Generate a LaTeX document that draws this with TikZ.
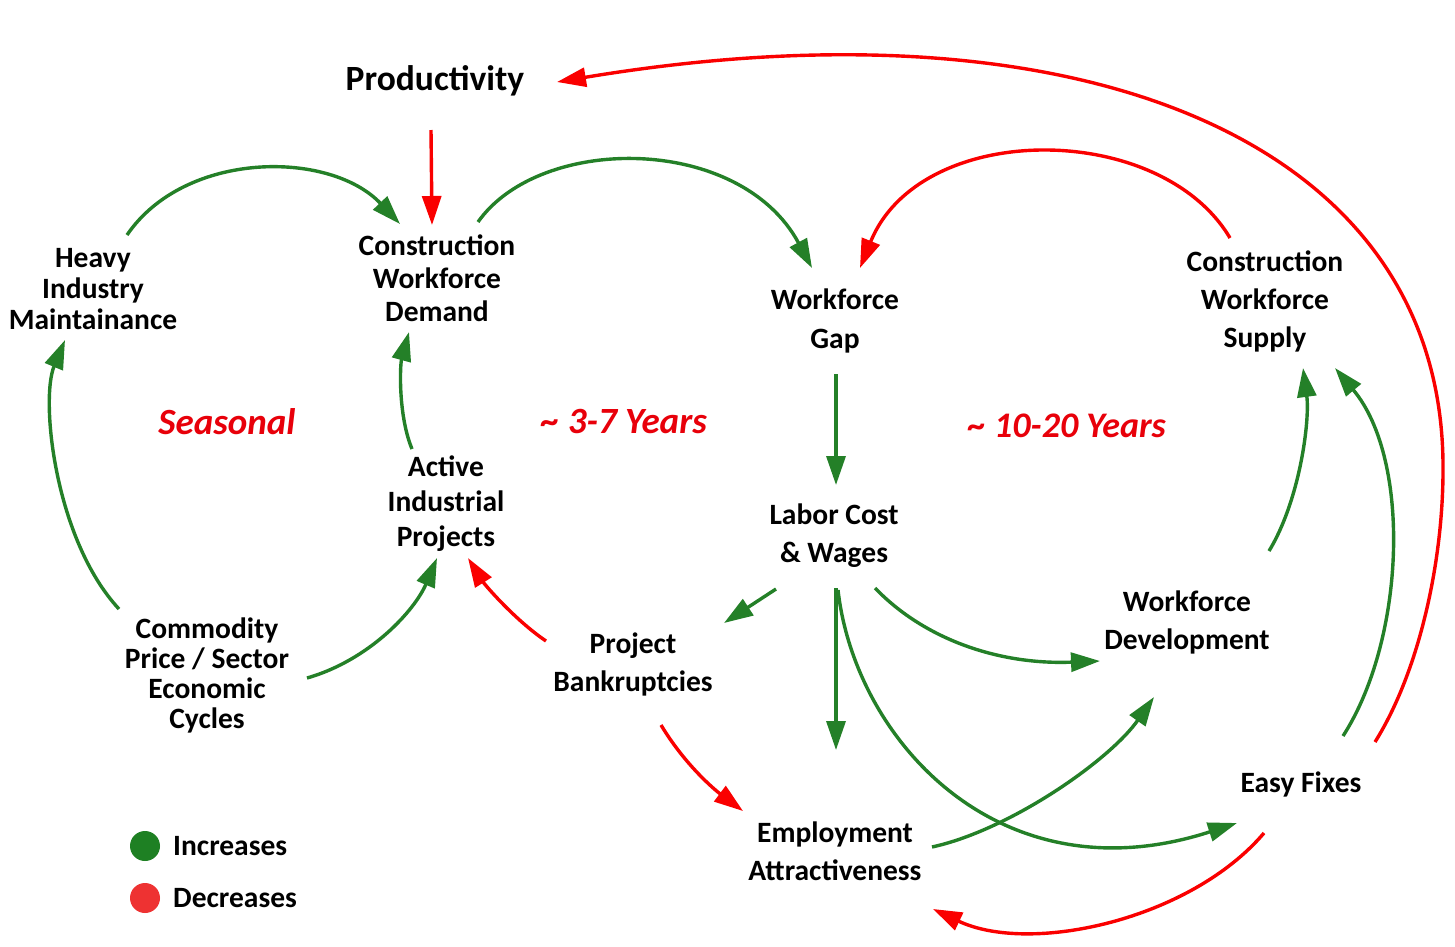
\documentclass[tikz,border=0pt]{standalone}
\usepackage{fontspec}
\setmainfont{Carlito}
\usetikzlibrary{arrows.meta,calc}
\definecolor{arrgreen}{RGB}{36,128,40}
\definecolor{arrred}{RGB}{250,0,0}
\definecolor{txtred}{RGB}{232,0,10}
\definecolor{leggreen}{RGB}{30,128,35}
\definecolor{legred}{RGB}{238,50,50}
\newcommand\lblfont[1]{\fontsize{29.5}{#1}\selectfont\bfseries}
\tikzset{
  lbl/.style={inner sep=0pt, align=center, text=black},
  period/.style={inner sep=0pt, text=txtred, font=\fontsize{37}{42}\selectfont\bfseries\itshape},
  posarrow/.style={draw=arrgreen, line width=3.4pt, -{Triangle[length=29pt,width=19pt]}},
  negarrow/.style={draw=arrred, line width=3.4pt, -{Triangle[length=29pt,width=19pt]}},
}
\begin{document}
\begin{tikzpicture}[x=1pt,y=-1pt]
\fill[white] (0,0) rectangle (1455,946);
\useasboundingbox (0,0) rectangle (1455,946);

% nodes
\node[lbl, font=\fontsize{35.5}{40}\selectfont\bfseries] (prod) at (435,81) {Productivity};
\node[lbl, font=\lblfont{31}] (heavy) at (93,289) {Heavy\\Industry\\Maintainance};
\node[lbl, font=\lblfont{33}] (cwd) at (437,278) {Construction\\Workforce\\Demand};
\node[lbl, font=\lblfont{39}] (gap) at (835,321) {Workforce\\Gap};
\node[lbl, font=\lblfont{38}] (supply) at (1265,301) {Construction\\Workforce\\Supply};
\node[lbl, font=\lblfont{35}] (active) at (446,504) {Active\\Industrial\\Projects};
\node[lbl, font=\lblfont{38}] (labor) at (834,536) {Labor Cost\\\& Wages};
\node[lbl, font=\lblfont{38}] (wdev) at (1187,622) {Workforce\\Development};
\node[lbl, font=\lblfont{30}] (comm) at (207,675) {Commodity\\Price / Sector\\Economic\\Cycles};
\node[lbl, font=\lblfont{38}] (bank) at (633,664) {Project\\Bankruptcies};
\node[lbl, font=\lblfont{38}] (emp) at (835,851) {Employment\\Attractiveness};
\node[lbl, font=\lblfont{38}] (easy) at (1301,784) {Easy Fixes};

\node[period] (seasonal) at (227,422) {Seasonal};
\node[period] (short) at (624,422) {\char`~\ 3-7 Years};
\node[period, font=\fontsize{36}{42}\selectfont\bfseries\itshape] (long) at (1067,426) {\char`~\ 10-20 Years};

% legend
\fill[leggreen] (145,846) circle (15);
\fill[legred] (145,898) circle (15);
\node[lbl, anchor=west, font=\lblfont{30}] (inc) at (173,846) {Increases};
\node[lbl, anchor=west, font=\lblfont{30}] (dec) at (173,898) {Decreases};

% connectors
\draw[negarrow] ($(prod)+(-4,49)$) -- ($(cwd)+(-5,-53)$);
\draw[posarrow] ($(heavy)+(34,-54)$) .. controls (185,150) and (330,150) .. ($(cwd)+(-37,-54)$);
\draw[posarrow] ($(cwd)+(41,-56)$) .. controls (540,134) and (740,134) .. ($(gap)+(-23,-53)$);
\draw[negarrow] ($(supply)+(-35,-63)$) .. controls (1160,120) and (920,120) .. ($(gap)+(25,-53)$);
\draw[negarrow] ($(easy)+(74,-42)$) .. controls (1420,670) and (1443,560) .. (1443,470)
   .. controls (1445,140) and (1080,-5) .. ($(prod)+(122,1)$);
\draw[posarrow] ($(gap)+(1,53)$) -- ($(labor)+(2,-51)$);
\draw[posarrow] ($(labor)+(-58,53)$) -- ($(bank)+(91,-41)$);
\draw[posarrow] ($(labor)+(2,52)$) -- ($(emp)+(1,-101)$);
\draw[posarrow] ($(labor)+(41,52)$) .. controls (925,640) and (1000,665) .. ($(wdev)+(-87,39)$);
\draw[posarrow] ($(labor)+(4,54)$) .. controls (855,740) and (1000,900) .. ($(easy)+(-64,39)$);
\draw[posarrow] ($(emp)+(97,-4)$) .. controls (1010,830) and (1110,760) .. ($(wdev)+(-33,75)$);
\draw[posarrow] ($(wdev)+(82,-71)$) .. controls (1300,500) and (1310,420) .. ($(supply)+(38,67)$);
\draw[posarrow] ($(easy)+(42,-48)$) .. controls (1405,640) and (1412,460) .. ($(supply)+(70,67)$);
\draw[negarrow] ($(easy)+(-37,49)$) .. controls (1190,920) and (1030,955) .. ($(emp)+(98,58)$);
\draw[negarrow] ($(bank)+(28,61)$) .. controls (685,765) and (715,790) .. ($(emp)+(-92,-40)$);
\draw[negarrow] ($(bank)+(-87,-23)$) .. controls (515,620) and (485,585) .. ($(active)+(22,54)$);
\draw[posarrow] ($(active)+(-34,-55)$) .. controls (398,415) and (400,365) .. ($(cwd)+(-28,54)$);
\draw[posarrow] ($(comm)+(-88,-66)$) .. controls (55,540) and (40,400) .. ($(heavy)+(-28,51)$);
\draw[posarrow] ($(comm)+(100,3)$) .. controls (370,660) and (415,610) .. ($(active)+(-9,54)$);
\end{tikzpicture}
\end{document}
